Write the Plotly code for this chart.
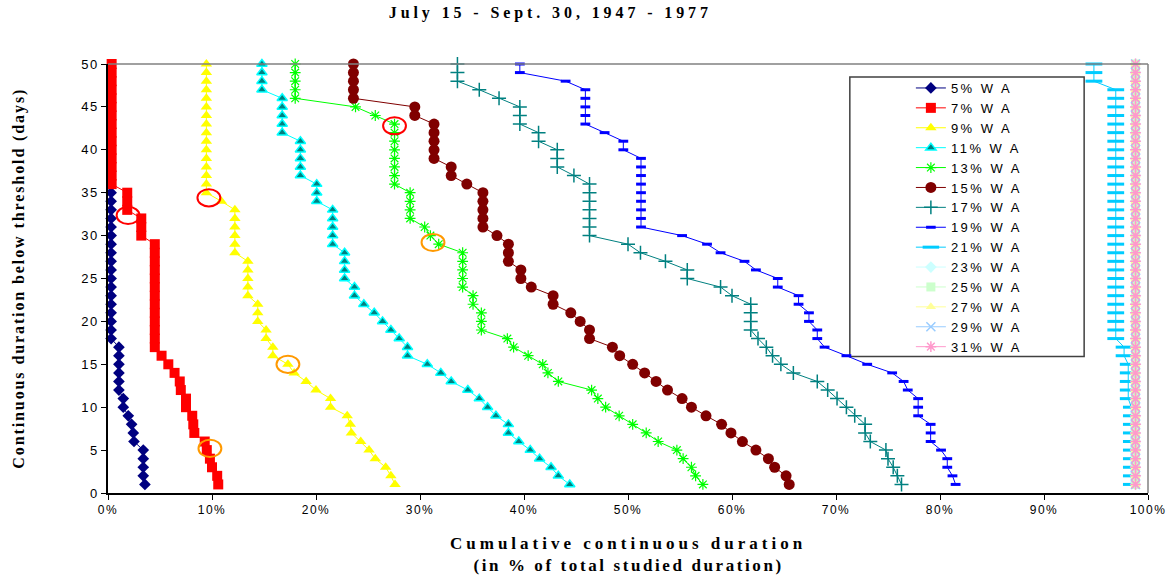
import plotly.graph_objects as go

# Continuous duration below threshold (days) vs cumulative duration (% of studied period)

days_5 = list(range(35, 0, -1))
pct_5 = [0.3, 0.3, 0.3, 0.3, 0.3, 0.3, 0.3, 0.3, 0.3, 0.3,
         0.3, 0.3, 0.3, 0.3, 0.3, 0.3, 0.3, 0.3, 1.05, 1.05,
         1.05, 1.05, 1.05, 1.05, 1.47, 1.47, 1.95, 2.27, 2.43, 2.5,
         3.39, 3.39, 3.39, 3.39, 3.55]

days_7 = list(range(50, 0, -1))
pct_7 = [0.35, 0.35, 0.35, 0.35, 0.35, 0.35, 0.35, 0.35, 0.35, 0.35,
         0.35, 0.35, 0.35, 0.35, 0.35, 1.85, 1.85, 1.85, 3.2, 3.2,
         3.2, 4.5, 4.5, 4.5, 4.5, 4.5, 4.5, 4.5, 4.5, 4.5,
         4.5, 4.5, 4.5, 4.5, 5.15, 5.8, 6.4, 6.9, 7.0, 7.5,
         7.5, 8.1, 8.2, 8.3, 9.3, 9.5, 9.8, 10.0, 10.5, 10.6]

days_9 = list(range(50, 0, -1))
pct_9 = [9.46, 9.46, 9.46, 9.46, 9.46, 9.46, 9.46, 9.46, 9.46, 9.46,
         9.46, 9.46, 9.46, 9.46, 9.46, 9.46, 10.9, 12.2, 12.2, 12.2,
         12.2, 12.2, 12.2, 13.45, 13.45, 13.45, 13.45, 13.45, 14.4, 14.4,
         14.4, 15.2, 15.2, 15.85, 15.85, 17.3, 17.9, 19.05, 20.0, 21.4,
         21.4, 23.0, 23.3, 23.4, 24.3, 25.1, 25.7, 26.7, 27.2, 27.6]

days_11 = list(range(50, 0, -1))
pct_11 = [14.8, 14.8, 14.8, 14.8, 16.75, 16.75, 16.75, 16.75, 16.75, 18.5,
          18.5, 18.5, 18.5, 18.5, 20.07, 20.07, 20.07, 21.6, 21.6, 21.6,
          21.6, 21.6, 22.75, 22.75, 22.75, 22.75, 23.7, 23.7, 24.6, 25.6,
          26.4, 27.2, 28.0, 28.8, 28.8, 30.7, 32.0, 33.0, 34.6, 35.7,
          36.5, 37.3, 38.5, 38.5, 39.5, 40.6, 41.5, 42.6, 43.3, 44.4]

days_13 = list(range(50, 0, -1))
pct_13 = [18.0, 18.0, 18.0, 18.0, 18.0, 23.8, 25.7, 27.55, 27.55, 27.55,
          27.55, 27.55, 27.55, 27.55, 27.55, 29.05, 29.05, 29.05, 29.05, 30.45,
          31.0, 31.8, 34.1, 34.1, 34.1, 34.1, 34.1, 35.1, 35.1, 35.9,
          35.9, 35.9, 38.4, 39.0, 40.4, 41.8, 42.3, 43.3, 46.5, 47.1,
          47.85, 49.15, 50.45, 51.75, 52.9, 54.7, 55.3, 56.1, 56.5, 57.2]

days_15 = list(range(50, 0, -1))
pct_15 = [23.6, 23.6, 23.6, 23.6, 23.6, 29.5, 29.5, 31.35, 31.35, 31.35,
          31.35, 31.35, 33.0, 33.0, 34.5, 36.05, 36.05, 36.05, 36.05, 36.05,
          37.4, 38.5, 38.5, 38.5, 39.7, 39.7, 40.7, 42.8, 42.8, 44.5,
          45.4, 46.3, 46.3, 48.5, 49.2, 50.45, 51.6, 52.7, 53.8, 55.2,
          56.1, 57.5, 59.0, 59.9, 61.0, 62.3, 63.5, 64.1, 65.2, 65.5]

# these three curves start above the 50-day top of the axis
days_17 = list(range(51, 0, -1))
pct_17 = [31.0, 33.6, 33.6, 33.6, 35.7, 37.6, 39.6, 39.6, 39.6, 41.4,
          41.4, 43.2, 43.2, 43.2, 44.8, 46.3, 46.3, 46.3, 46.3, 46.3,
          46.3, 46.3, 50.0, 51.2, 53.6, 55.7, 55.7, 58.9, 60.0, 61.8,
          61.8, 61.8, 61.8, 62.5, 63.3, 63.9, 64.7, 65.9, 68.2, 69.2,
          70.1, 71.0, 71.8, 72.8, 72.8, 73.3, 74.8, 75.0, 75.5, 75.9,
          76.3]

days_19 = list(range(51, 0, -1))
pct_19 = [36.0, 39.6, 39.6, 44.0, 45.9, 45.9, 45.9, 45.9, 45.9, 47.75,
          49.55, 49.55, 51.25, 51.25, 51.25, 51.25, 51.25, 51.25, 51.25, 51.25,
          51.25, 55.2, 57.6, 58.9, 61.2, 62.3, 64.4, 64.4, 66.4, 66.4,
          67.4, 67.4, 68.2, 68.2, 68.9, 71.0, 73.0, 75.4, 76.5, 76.9,
          77.9, 77.9, 77.9, 79.1, 79.1, 79.1, 80.1, 80.7, 80.7, 81.2,
          81.5]

days_21 = list(range(51, 0, -1))
pct_21 = [94.8, 94.8, 94.8, 94.8, 96.9, 96.9, 96.9, 96.9, 96.9, 96.9,
          96.9, 96.9, 96.9, 96.9, 96.9, 96.9, 96.9, 96.9, 96.9, 96.9,
          96.9, 96.9, 96.9, 96.9, 96.9, 96.9, 96.9, 96.9, 96.9, 96.9,
          96.9, 96.9, 96.9, 96.9, 97.7, 97.7, 98.1, 98.1, 98.1, 98.1,
          98.1, 98.4, 98.4, 98.4, 98.4, 98.4, 98.4, 98.4, 98.4, 98.4,
          98.4]

# 23% to 31% WA all sit on the same vertical line
days_high = list(range(50, 0, -1))
pct_high = [98.8, 98.8, 98.8, 98.8, 98.8, 98.8, 98.8, 98.8, 98.8, 98.8,
            98.8, 98.8, 98.8, 98.8, 98.8, 98.8, 98.8, 98.8, 98.8, 98.8,
            98.8, 98.8, 98.8, 98.8, 98.8, 98.8, 98.8, 98.8, 98.8, 98.8,
            98.8, 98.8, 98.8, 98.8, 98.8, 98.8, 98.8, 98.8, 98.8, 98.8,
            98.8, 98.8, 98.8, 98.8, 98.8, 98.8, 98.8, 98.8, 98.8, 98.8]

# hand-drawn circles on the original chart
circle_pct = [1.93, 9.7, 27.55, 9.8, 17.3, 31.25]
circle_days = [32.35, 34.4, 42.8, 5.2, 15.0, 29.2]
circle_color = ["#FF0000", "#FF0000", "#FF0000", "#FF9900", "#FF9900", "#FF9900"]

series = [
    # name, x, y, line colour, symbol, marker colour, size, marker line colour, marker line width
    ("5% W A", pct_5, days_5, "#000080", "diamond", "#000080", 9, "#000080", 0),
    ("7% W A", pct_7, days_7, "#FF0000", "square", "#FF0000", 10, "#FF0000", 0),
    ("9% W A", pct_9, days_9, "#FFFF00", "triangle-up", "#FFFF00", 10, "#FFFF00", 0),
    ("11% W A", pct_11, days_11, "#00FFFF", "triangle-up", "#008080", 9, "#00FFFF", 1.5),
    ("13% W A", pct_13, days_13, "#00FF00", "asterisk-open", "#00FF00", 9, "#00FF00", 1.2),
    ("15% W A", pct_15, days_15, "#800000", "circle", "#800000", 11, "#800000", 0),
    ("17% W A", pct_17, days_17, "#008080", "cross-thin-open", "#008080", 10, "#008080", 1.5),
    ("19% W A", pct_19, days_19, "#0000FF", "line-ew-open", "#0000FF", 7, "#0000FF", 3),
    ("21% W A", pct_21, days_21, "#00CCFF", "line-ew-open", "#00CCFF", 12, "#00CCFF", 3),
    ("23% W A", pct_high, days_high, "#CCFFFF", "diamond", "#CCFFFF", 9, "#CCFFFF", 0),
    ("25% W A", pct_high, days_high, "#CCFFCC", "square", "#CCFFCC", 9, "#CCFFCC", 0),
    ("27% W A", pct_high, days_high, "#FFFF99", "triangle-up", "#FFFF99", 9, "#FFFF99", 0),
    ("29% W A", pct_high, days_high, "#99CCFF", "x-thin-open", "#99CCFF", 9, "#99CCFF", 1.5),
    ("31% W A", pct_high, days_high, "#FF99CC", "asterisk-open", "#FF99CC", 9, "#FF99CC", 1.5),
]

fig = go.Figure()

for name, xs, ys, lc, sym, mc, ms, mlc, mlw in series:
    # no marker for the points above the top of the axis
    sizes = [0 if d > 50 else ms for d in ys]
    fig.add_trace(go.Scatter(
        x=xs, y=ys, name=name,
        mode="lines+markers",
        line=dict(color=lc, width=1),
        marker=dict(symbol=sym, size=sizes, color=mc, opacity=1,
                    line=dict(color=mlc, width=mlw)),
        cliponaxis=False,
        hoverinfo="x+y+name",
    ))

for cx, cy, cc in zip(circle_pct, circle_days, circle_color):
    fig.add_shape(type="circle", xref="x", yref="y",
                  x0=cx - 1.1, x1=cx + 1.1, y0=cy - 1.0, y1=cy + 1.0,
                  line=dict(color=cc, width=2))

# legend frame and the grey plot-area border (top and right)
fig.add_shape(type="rect", xref="paper", yref="paper",
              x0=0.7133, x1=0.9386, y0=0.318, y1=0.9697,
              line=dict(color="#404040", width=1.5), fillcolor="white", layer="below")
fig.add_shape(type="line", xref="paper", yref="paper", x0=0, x1=1, y0=1, y1=1,
              line=dict(color="#808080", width=1.5))
fig.add_shape(type="line", xref="paper", yref="paper", x0=1, x1=1, y0=0, y1=1,
              line=dict(color="#808080", width=1.5))

serif = "Liberation Serif, Times New Roman, serif"
sans = "Liberation Sans, Arial, sans-serif"

fig.add_annotation(text="<b>Continuous duration below threshold (days)</b>",
                   xref="paper", yref="paper", x=-0.0863, y=0.5, textangle=-90,
                   xanchor="center", yanchor="middle",
                   showarrow=False, font=dict(family=serif, size=16, color="black"))
fig.add_annotation(text="<b>Cumulative continuous duration</b>",
                   xref="paper", yref="paper", x=0.5, y=-0.1166,
                   xanchor="center", yanchor="middle",
                   showarrow=False, font=dict(family=serif, size=17, color="black"))
fig.add_annotation(text="<b>(in % of total studied duration)</b>",
                   xref="paper", yref="paper", x=0.5, y=-0.170,
                   xanchor="center", yanchor="middle",
                   showarrow=False, font=dict(family=serif, size=17, color="black"))

fig.update_layout(
    width=1176, height=579,
    margin=dict(l=108, r=25, t=64, b=86),
    paper_bgcolor="white", plot_bgcolor="white",
    title=dict(text="<b>July 15 - Sept. 30, 1947 - 1977</b>", x=0.468, xanchor="center",
               y=0.988, yanchor="top", font=dict(family=serif, size=16, color="black")),
    showlegend=True,
    legend=dict(x=0.772, y=0.979, xanchor="left", yanchor="top",
                bgcolor="rgba(0,0,0,0)", borderwidth=0, entrywidth=150,
                font=dict(family=sans, size=13, color="black")),
    xaxis=dict(range=[0, 100], dtick=10, ticksuffix="%", showgrid=False, zeroline=False,
               showline=True, linecolor="black", linewidth=1.5, ticks="outside",
               ticklen=5, tickcolor="black", tickfont=dict(family=sans, size=12, color="black")),
    yaxis=dict(range=[0, 50], dtick=5, showgrid=False, zeroline=False,
               showline=True, linecolor="black", linewidth=1.5, ticks="outside",
               ticklen=5, tickcolor="black", tickfont=dict(family=sans, size=13, color="black")),
)

# page margin off, and the wide letter spacing of the original
spacing_js = """
document.body.style.margin = '0';
var gd = document.getElementById('{plot_id}');
function sp(sel, v) { gd.querySelectorAll(sel).forEach(function(t){ t.style.letterSpacing = v; }); }
sp('.legendtext', '2.5px');
sp('.xtick text', '1.5px');
sp('.ytick text', '1.5px');
sp('.gtitle', '3.9px');
sp('.annotation[data-index="0"] .annotation-text', '1.9px');
sp('.annotation[data-index="1"] .annotation-text', '4px');
sp('.annotation[data-index="2"] .annotation-text', '2.6px');
gd.querySelectorAll('.legend .scrollbox').forEach(function(g){ g.removeAttribute('clip-path'); });
"""

fig.write_html("out.html", post_script=spacing_js, config={"displayModeBar": False})
